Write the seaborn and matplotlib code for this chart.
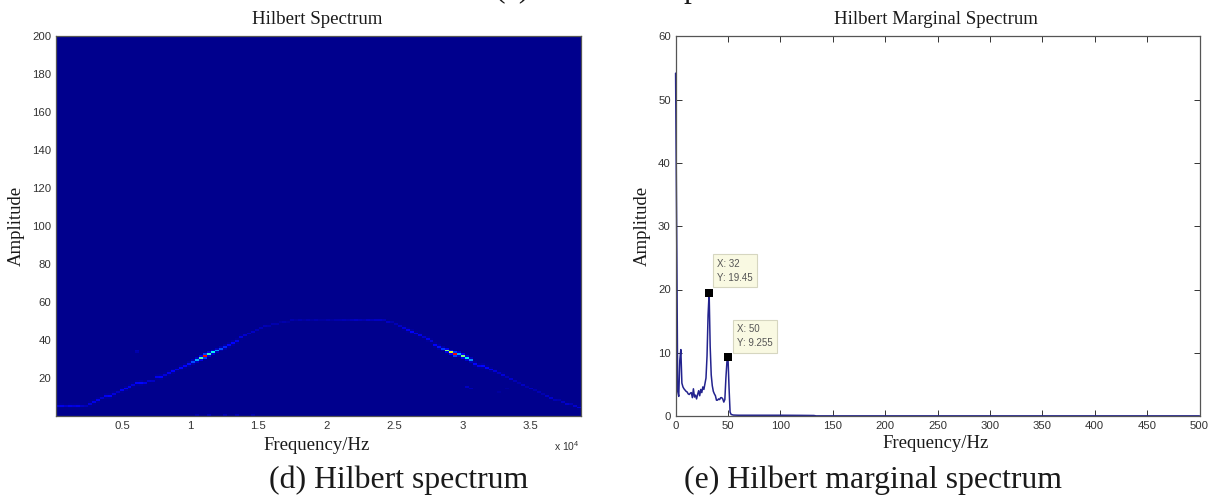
import numpy as np
import pandas as pd
import matplotlib
matplotlib.use('Agg')
import matplotlib.pyplot as plt
import seaborn as sns

sns.set_theme(style='white')
plt.rcParams['font.family'] = ['Liberation Sans', 'DejaVu Sans']
plt.rcParams['mathtext.default'] = 'regular'

SERIF = 'Liberation Serif'

# Hilbert spectrum ridge, one amplitude per column of the time-frequency grid
ridge_amp = [5, 5, 5, 5, 5, 5, 5, 5.5, 6.5, 7, 8, 9, 10, 10.5, 11.5, 12, 13, 14, 15, 16,
             17, 17.5, 17.5, 18, 18.5, 20, 20.5, 21.5, 22, 23, 24, 25, 26, 27, 28, 29,
             30, 31, 32, 33, 34, 35, 36, 37, 38.5, 39.5, 41, 42, 43, 44, 45, 46, 47, 47.5,
             48, 48.5, 49, 49.5, 49.5, 50, 50, 50, 50, 50, 50, 50, 50, 50, 50, 50, 50, 50,
             50, 50, 50, 50, 50, 50, 50, 50, 50, 50, 50, 49.5, 49, 48, 47, 46, 45, 44, 43,
             42, 41, 40, 39, 37.5, 36.5, 35.5, 34.5, 33.5, 32.5, 32, 31, 30, 29, 27, 26.5,
             26, 25, 24, 23, 22, 21, 20, 19, 18, 17, 16, 15, 14, 13, 12, 11, 10, 9, 8.5, 8,
             7, 6.5, 6, 5, 4.5]
ridge_level = [.08, .09, .07, .09, .08, .09, .06, .05, .08, .09, .1, .07, .1, .11, .08, .06, .1, .12, .1, .08,
               .11, .13, .09, .07, .06, .1, .12, .08, .1, .12, .09, .13, .11, .14, .2, .3,
               .45, .9, .42, .36, .28, .2, .16, .13, .12, .1, .08, .07, .06, .06, .05, .05, .05, .04,
               .04, .04, .03, .04, .03, .04, .03, .04, .03, .04, .03, .04, .03, .03, .04, .03, .04, .04,
               .05, .04, .05, .06, .05, .04, .06, .05, .06, .06, .05, .06, .04, .05, .06, .08, .1, .12, .09,
               .09, .07, .1, .08, .11, .14, .18, .5, .62, .9, .3, .5, .36, .26, .13, .1,
               .13, .11, .1, .08, .06, .08, .05, .07, .05, .04, .06, .04, .06, .04, .05, .04, .06, .07, .05, .04,
               .06, .07, .05, .07, .08]
# faint spots off the ridge: frequency (x 10^4), amplitude, level
spot_freq = [0.6, 0.62, 3.05, 3.08, 3.28, 3.32, 1.05, 1.15, 1.25, 1.35, 1.45]
spot_amp = [34, 33, 15, 14, 12, 14, 0, 0, 0, 0, 0]
spot_level = [.05, .04, .06, .05, .03, .03, .04, .05, .05, .05, .04]

x_ticks_left = [0.5, 1, 1.5, 2, 2.5, 3, 3.5]
x_labels_left = ['0.5', '1', '1.5', '2', '2.5', '3', '3.5']
y_ticks_left = [20, 40, 60, 80, 100, 120, 140, 160, 180, 200]

# Hilbert marginal spectrum
marginal_freq = [0, 1, 2, 3, 4, 5, 6, 7, 8, 9, 10, 11, 12, 13, 14, 15, 16, 17, 18, 19, 20,
                 21, 22, 23, 24, 25, 26, 27, 28, 29, 30, 31, 32, 33, 34, 35, 36, 37, 38, 39,
                 40, 41, 42, 43, 44, 45, 46, 47, 48, 49, 50, 51, 52, 53, 55, 60, 80, 100, 120, 132, 134, 500]
marginal_amp = [54.2, 30, 3.9, 3.1, 8.8, 10.5, 5.2, 4.6, 4.3, 4.1, 3.9, 3.8, 3.5, 3.4, 3.6, 3.7, 2.9, 4.3,
                3.0, 3.3, 2.7, 3.4, 4.0, 3.2, 4.2, 3.7, 4.6, 4.2, 5.1, 6.0, 9.5, 16, 19.45, 11, 6.5, 4.8, 3.9,
                3.5, 3.2, 2.5, 2.5, 2.7, 2.6, 2.9, 2.9, 2.7, 2.2, 2.6, 6, 8.6, 9.255, 4.5, 0.6, 0.25, 0.15,
                0.12, 0.12, 0.12, 0.1, 0.08, 0.02, 0.02]
tip_x = [32, 50]
tip_y = [19.45, 9.255]
tip_text = ['X: 32\nY: 19.45', 'X: 50\nY: 9.255']
tip_offset = [(25.6, 22), (26.7, 21.4)]

WIDTH, HEIGHT = 1212, 495
FREQ_MIN, FREQ_MAX = 0.01, 3.87
AMP_ROWS = 200


def px_axes(left, right, top, bottom):
    return fig.add_axes([left / WIDTH, 1 - bottom / HEIGHT, (right - left) / WIDTH, (bottom - top) / HEIGHT])


def style_box(ax):
    for spine in ax.spines.values():
        spine.set_visible(True)
        spine.set_color('#555555')
        spine.set_linewidth(0.9)
    ax.tick_params(axis='both', direction='in', length=4, width=0.7, color='#333333',
                   labelsize=8.2, labelcolor='#333333', top=True, right=True, bottom=True, left=True, pad=3.5)


def px_text(x, y, s, size, **kw):
    fig.text(x / WIDTH, 1 - y / HEIGHT, s, fontsize=size, family=SERIF, ha='center', va='center',
             color=kw.pop('color', '#1a1a1a'), **kw)


fig = plt.figure(figsize=(WIDTH / 100, HEIGHT / 100), dpi=100)

# --- left panel: spectrum as a heatmap ---
n_cols = len(ridge_amp)
cell_per_freq = n_cols / (FREQ_MAX - FREQ_MIN)
spectrum = np.full((AMP_ROWS, n_cols), 0.012)
for col, (amp, level) in enumerate(zip(ridge_amp, ridge_level)):
    row = int(amp)
    spectrum[row, col] = level
    for near in (row - 1, row + 1):
        spectrum[near, col] = max(spectrum[near, col], level * 0.2)
for freq, amp, level in zip(spot_freq, spot_amp, spot_level):
    spectrum[int(amp), int((freq - FREQ_MIN) * cell_per_freq)] = level

ax1 = px_axes(56, 580.5, 36.5, 416)
sns.heatmap(spectrum, ax=ax1, cmap='jet', vmin=0, vmax=1, cbar=False, xticklabels=False, yticklabels=False)
ax1.invert_yaxis()
ax1.set_xticks([(f - FREQ_MIN) * cell_per_freq for f in x_ticks_left])
ax1.set_xticklabels(x_labels_left, rotation=0)
ax1.set_yticks(y_ticks_left)
ax1.set_yticklabels([str(v) for v in y_ticks_left], rotation=0)
style_box(ax1)

# --- right panel: marginal spectrum ---
marginal = pd.DataFrame({'freq': marginal_freq, 'amp': marginal_amp})
tips = pd.DataFrame({'freq': tip_x, 'amp': tip_y})

ax2 = px_axes(675.6, 1199.5, 36.5, 416)
sns.lineplot(data=marginal, x='freq', y='amp', ax=ax2, color='#23238e', linewidth=1.1, errorbar=None, clip_on=False)
sns.scatterplot(data=tips, x='freq', y='amp', ax=ax2, marker='s', s=26, color='black', linewidth=0, zorder=5)
ax2.set_xlim(0, 500)
ax2.set_ylim(0, 60)
ax2.set_xticks(range(0, 501, 50))
ax2.set_yticks(range(0, 61, 10))
ax2.set_xlabel('')
ax2.set_ylabel('')
style_box(ax2)

# data tips
for x, y, text, offset in zip(tip_x, tip_y, tip_text, tip_offset):
    ax2.annotate(text, xy=(x, y), xytext=(offset[0] * 0.72, offset[1] * 0.72), textcoords='offset points',
                 ha='center', va='center', multialignment='left', fontsize=7, color='#555555', linespacing=1.6,
                 bbox=dict(boxstyle='square,pad=0.42', facecolor='#f9f9e2', edgecolor='#d6d6c0', linewidth=0.8),
                 zorder=6)

# titles, axis labels and captions
px_text(317, 20, 'Hilbert Spectrum', 13.6)
px_text(936, 20, 'Hilbert Marginal Spectrum', 13.6)
px_text(317, 445, 'Frequency/Hz', 13.5)
px_text(936, 444, 'Frequency/Hz', 13.5)
px_text(16, 226, 'Amplitude', 13.5, rotation=90)
px_text(642, 226, 'Amplitude', 13.5, rotation=90)
fig.text(567 / WIDTH, 1 - 446 / HEIGHT, 'x 10$^{4}$', fontsize=7.5, color='#333333', ha='center', va='center')
px_text(399, 480, '(d) Hilbert spectrum', 22.9)
px_text(873, 480, '(e) Hilbert marginal spectrum', 22.9)
# first caption line is cut off by the image edge
px_text(512, -11, '(c)', 22.9)
px_text(691, -11, 'p', 22.9)

fig.savefig('out.png', dpi=100)
plt.close(fig)
